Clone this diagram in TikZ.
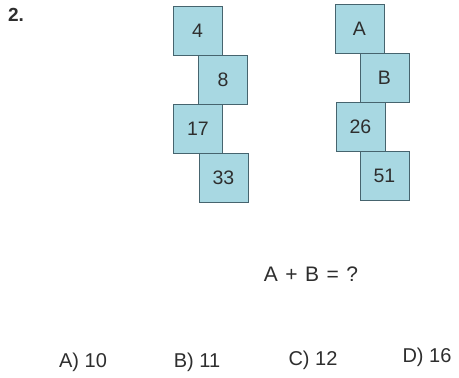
\documentclass[tikz,border=0pt]{standalone}
\usepackage{fontspec}
\setmainfont{Liberation Sans}
\usetikzlibrary{positioning}
\definecolor{boxfill}{HTML}{A8D8E2}
\definecolor{boxline}{HTML}{46646E}
\definecolor{inkgray}{HTML}{2E2E2E}

\begin{document}
\begin{tikzpicture}[
        x=1pt, y=-1pt,
        numbox/.style={
            rectangle,
            draw=boxline,
            fill=boxfill,
            line width=1pt,
            minimum width=49pt,
            minimum height=49pt,
            outer sep=0pt,
            inner sep=0pt,
            text=inkgray,
            font=\fontsize{19.5}{22}\selectfont
        },
        txt/.style={
            text=inkgray,
            inner sep=0pt,
            font=\fontsize{20}{24}\selectfont
        }
    ]
    \useasboundingbox[fill=white] (0,0) rectangle (459,378);

    % Question number
    \node[txt, font=\fontsize{19}{22}\selectfont\bfseries] (qnum) at (16,15) {2.};

    % Left column
    \node[numbox] (four) at (197.5,30.5) {4};
    \node[numbox, below=0pt of four, xshift=25.5pt] (eight) {8};
    \node[numbox, below=0pt of eight, xshift=-25pt] (seventeen) {17};
    \node[numbox, below=0pt of seventeen, xshift=25.5pt] (thirtythree) {33};

    % Right column
    \node[numbox] (boxA) at (359.5,28.5) {A};
    \node[numbox, below=0pt of boxA, xshift=25pt] (boxB) {B};
    \node[numbox, below=0pt of boxB, xshift=-24pt] (twentysix) {26};
    \node[numbox, below=0pt of twentysix, xshift=24pt] (fiftyone) {51};

    % Question
    \node[txt, font=\fontsize{21}{24}\selectfont] (question) at (311,274)
        {A\hspace{7.5pt}+\hspace{7.5pt}B\hspace{7.5pt}=\hspace{7.5pt}?};

    % Answers
    \node[txt] (ansA) at (83,362) {A) 10};
    \node[txt] (ansB) at (197,362) {B) 11};
    \node[txt] (ansC) at (313,360) {C) 12};
    \node[txt] (ansD) at (427,357) {D) 16};
\end{tikzpicture}
\end{document}
